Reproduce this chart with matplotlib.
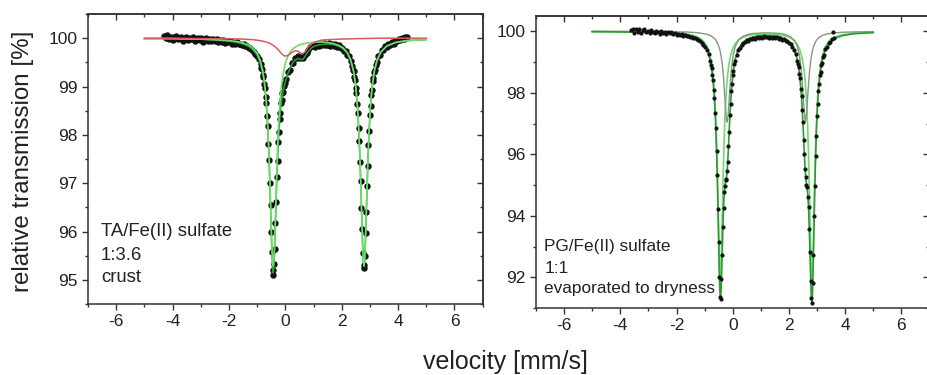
import numpy as np
import matplotlib.pyplot as plt
from matplotlib.ticker import MultipleLocator

plt.rcParams['font.family'] = ['Liberation Sans', 'DejaVu Sans']

# ---------------- left: TA/Fe(II) sulfate 1:3.6, crust ----------------
ta_vel = [
    -4.30, -4.24, -4.18, -4.12, -4.06, -4.00, -3.94, -3.88, -3.82, -3.76,
    -3.70, -3.64, -3.58, -3.52, -3.46, -3.40, -3.34, -3.28, -3.22, -3.16,
    -3.10, -3.04, -2.98, -2.92, -2.86, -2.80, -2.74, -2.68, -2.62, -2.56,
    -2.50, -2.44, -2.38, -2.32, -2.26, -2.20, -2.14, -2.08, -2.02, -1.96,
    -1.90, -1.84, -1.78, -1.72, -1.66, -1.60, -1.54, -1.48, -1.42, -1.36,
    -1.30, -1.24, -1.18, -1.12, -1.06, -1.00, -0.94, -0.88,
    -0.85, -0.825, -0.80, -0.775, -0.75, -0.725, -0.70, -0.675, -0.65, -0.625,
    -0.60, -0.575, -0.55, -0.525, -0.50, -0.475, -0.45, -0.425, -0.40, -0.375,
    -0.35, -0.325, -0.30, -0.275, -0.25, -0.225, -0.20, -0.175, -0.15, -0.125,
    -0.10, -0.075, -0.05,
    -0.02, 0.04, 0.10, 0.16, 0.22, 0.28, 0.34, 0.40, 0.46, 0.52,
    0.58, 0.64, 0.70, 0.76, 0.82, 0.88, 0.94, 1.00, 1.06, 1.12,
    1.18, 1.24, 1.30, 1.36, 1.42, 1.48, 1.54, 1.60, 1.66, 1.72,
    1.78, 1.84, 1.90, 1.96, 2.02, 2.08, 2.14, 2.20, 2.26, 2.32, 2.38,
    2.40, 2.425, 2.45, 2.475, 2.50, 2.525, 2.55, 2.575, 2.60, 2.625,
    2.65, 2.675, 2.70, 2.725, 2.75, 2.775, 2.80, 2.825, 2.85, 2.875,
    2.90, 2.925, 2.95, 2.975, 3.00, 3.025, 3.05, 3.075, 3.10, 3.125,
    3.15, 3.175, 3.20,
    3.24, 3.30, 3.36, 3.42, 3.48, 3.54, 3.60, 3.66, 3.72, 3.78,
    3.84, 3.90, 3.96, 4.02, 4.08, 4.14, 4.20, 4.26, 4.32,
]
ta_trans = [
    100.05, 100.01, 100.06, 99.99, 100.03, 99.97, 100.02, 100.04, 99.98, 100.00,
    100.02, 99.95, 99.99, 100.03, 99.96, 100.00, 99.98, 100.02, 99.95, 99.99,
    100.01, 99.96, 100.00, 99.93, 99.98, 100.00, 99.95, 99.98, 99.94, 99.98,
    99.95, 99.99, 99.93, 99.96, 99.93, 99.97, 99.91, 99.94, 99.92, 99.95,
    99.89, 99.92, 99.89, 99.92, 99.88, 99.89, 99.86, 99.87, 99.83, 99.84,
    99.80, 99.79, 99.75, 99.72, 99.67, 99.63, 99.56, 99.46,
    99.39, 99.36, 99.24, 99.20, 99.05, 98.97, 98.79, 98.66, 98.40, 98.18,
    97.81, 97.49, 97.00, 96.55, 95.98, 95.58, 95.20, 95.10, 95.33, 95.64,
    96.17, 96.62, 97.12, 97.46, 97.85, 98.06, 98.33, 98.46, 98.66, 98.72,
    98.87, 98.89, 99.01,
    99.07, 99.15, 99.31, 99.35, 99.48, 99.49, 99.58, 99.58, 99.63, 99.60,
    99.62, 99.60, 99.66, 99.70, 99.76, 99.81, 99.83, 99.86, 99.82, 99.88,
    99.84, 99.89, 99.85, 99.90, 99.86, 99.85, 99.90, 99.84, 99.89, 99.84,
    99.87, 99.81, 99.85, 99.79, 99.80, 99.73, 99.74, 99.66, 99.64, 99.52, 99.43,
    99.35, 99.32, 99.19, 99.13, 98.97, 98.86, 98.63, 98.46, 98.15, 97.88,
    97.44, 97.05, 96.49, 96.05, 95.56, 95.30, 95.25, 95.50, 95.96, 96.40,
    96.95, 97.35, 97.80, 98.09, 98.42, 98.60, 98.83, 98.93, 99.11, 99.18,
    99.30, 99.34, 99.45,
    99.50, 99.63, 99.66, 99.76, 99.75, 99.83, 99.81, 99.88, 99.86, 99.92,
    99.89, 99.95, 99.94, 99.98, 99.97, 100.01, 99.99, 100.03, 100.02,
]

ta_fit_vel = [
    -5.0, -4.0, -3.0, -2.5, -2.0, -1.7, -1.5, -1.3, -1.15, -1.0,
    -0.9, -0.8, -0.73, -0.67, -0.62, -0.58, -0.54, -0.51, -0.48, -0.455,
    -0.43, -0.405, -0.38, -0.35, -0.32, -0.28, -0.24, -0.19, -0.13, -0.06,
    0.0, 0.08, 0.16, 0.25, 0.35, 0.45, 0.55, 0.62, 0.7, 0.8,
    0.95, 1.1, 1.3, 1.5, 1.7, 1.9, 2.05, 2.2, 2.32, 2.42,
    2.5, 2.56, 2.61, 2.65, 2.69, 2.72, 2.75, 2.77, 2.79, 2.81,
    2.83, 2.86, 2.89, 2.93, 2.97, 3.02, 3.08, 3.16, 3.26, 3.4,
    3.6, 3.9, 4.3, 5.0,
]
ta_fit_total = [
    99.99, 99.99, 99.98, 99.96, 99.94, 99.91, 99.88, 99.83, 99.76, 99.65,
    99.51, 99.27, 98.98, 98.59, 98.10, 97.54, 96.82, 96.21, 95.63, 95.28,
    95.14, 95.26, 95.59, 96.15, 96.73, 97.42, 97.93, 98.38, 98.72, 98.96,
    99.10, 99.25, 99.37, 99.48, 99.55, 99.58, 99.56, 99.56, 99.62, 99.72,
    99.81, 99.85, 99.87, 99.88, 99.87, 99.83, 99.78, 99.69, 99.54, 99.31,
    98.99, 98.58, 98.05, 97.47, 96.73, 96.12, 95.59, 95.36, 95.28, 95.36,
    95.59, 96.12, 96.73, 97.47, 98.06, 98.58, 98.99, 99.32, 99.55, 99.72,
    99.83, 99.91, 99.95, 99.97,
]
ta_fit_main = [
    99.99, 99.99, 99.98, 99.97, 99.95, 99.93, 99.90, 99.86, 99.80, 99.69,
    99.56, 99.33, 99.05, 98.67, 98.19, 97.64, 96.94, 96.33, 95.76, 95.42,
    95.29, 95.42, 95.76, 96.33, 96.93, 97.64, 98.19, 98.67, 99.05, 99.32,
    99.48, 99.61, 99.70, 99.77, 99.81, 99.85, 99.87, 99.88, 99.89, 99.90,
    99.91, 99.92, 99.92, 99.91, 99.89, 99.85, 99.80, 99.70, 99.55, 99.32,
    99.00, 98.59, 98.06, 97.48, 96.73, 96.13, 95.60, 95.37, 95.29, 95.37,
    95.60, 96.13, 96.74, 97.48, 98.06, 98.59, 99.00, 99.33, 99.56, 99.72,
    99.84, 99.91, 99.95, 99.97,
]
ta_minor_vel = [
    -5.0, -4.0, -3.0, -2.0, -1.5, -1.15, -0.9, -0.73, -0.58, -0.48,
    -0.38, -0.28, -0.19, -0.13, -0.06, 0.0, 0.08, 0.16, 0.25, 0.35,
    0.45, 0.55, 0.62, 0.7, 0.8, 0.95, 1.1, 1.3, 1.5, 1.9,
    2.5, 3.4, 4.3, 5.0,
]
ta_minor = [
    100.00, 100.00, 99.99, 99.99, 99.98, 99.97, 99.95, 99.93, 99.90, 99.87,
    99.83, 99.78, 99.72, 99.68, 99.64, 99.63, 99.64, 99.67, 99.71, 99.74,
    99.73, 99.69, 99.68, 99.72, 99.81, 99.89, 99.93, 99.96, 99.97, 99.98,
    99.99, 100.00, 100.00, 100.00,
]

# ---------------- right: PG/Fe(II) sulfate 1:1, evaporated ----------------
pg_vel = [
    -3.62, -3.56, -3.50, -3.44, -3.38, -3.32, -3.26, -3.20, -3.14, -3.08,
    -3.02, -2.96, -2.90, -2.84, -2.78, -2.72, -2.66, -2.60, -2.54, -2.48,
    -2.42, -2.36, -2.30, -2.24, -2.18, -2.12, -2.06, -2.00, -1.94, -1.88,
    -1.82, -1.76, -1.70, -1.64, -1.58, -1.52, -1.46, -1.40, -1.34, -1.28,
    -1.22, -1.16, -1.10, -1.04, -0.98, -0.92, -0.86, -0.80,
    -0.775, -0.75, -0.725, -0.70, -0.675, -0.65, -0.625, -0.60, -0.575, -0.55,
    -0.525, -0.50, -0.475, -0.45, -0.425, -0.40, -0.375, -0.35, -0.325, -0.30,
    -0.275, -0.25, -0.225, -0.20, -0.175, -0.15, -0.125, -0.10, -0.075, -0.05,
    -0.025, 0.0, 0.025, 0.05,
    0.08, 0.14, 0.20, 0.26, 0.32, 0.38, 0.44, 0.50, 0.56, 0.62,
    0.68, 0.74, 0.80, 0.86, 0.92, 0.98, 1.04, 1.10, 1.16, 1.22,
    1.28, 1.34, 1.40, 1.46, 1.52, 1.58, 1.64, 1.70, 1.76, 1.82,
    1.88, 1.94, 2.00, 2.06, 2.12, 2.18, 2.24, 2.30,
    2.325, 2.35, 2.375, 2.40, 2.425, 2.45, 2.475, 2.50, 2.525, 2.55,
    2.575, 2.60, 2.625, 2.65, 2.675, 2.70, 2.725, 2.75, 2.775, 2.80,
    2.825, 2.85, 2.875, 2.90, 2.925, 2.95, 2.975, 3.00, 3.025, 3.05,
    3.075, 3.10, 3.125, 3.15, 3.175, 3.20,
    3.24, 3.30, 3.36, 3.42, 3.48, 3.54, 3.57, 3.60,
]
pg_trans = [
    100.05, 100.09, 99.93, 100.07, 99.99, 100.06, 99.95, 100.03, 100.08, 99.97,
    100.02, 99.93, 100.04, 99.99, 99.94, 100.02, 99.97, 99.92, 100.02, 99.95,
    99.99, 99.91, 99.97, 99.93, 99.98, 99.91, 99.93, 99.89, 99.91, 99.87,
    99.90, 99.86, 99.88, 99.84, 99.85, 99.81, 99.83, 99.79, 99.78, 99.75,
    99.72, 99.68, 99.63, 99.57, 99.50, 99.39, 99.25, 99.02,
    98.90, 98.81, 98.57, 98.42, 98.09, 97.82, 97.33, 96.85, 96.10, 95.32,
    94.21, 93.16, 92.02, 91.35, 91.30, 91.95, 92.71, 93.64, 94.24, 94.78,
    94.97, 95.17, 95.20, 95.47, 95.74, 96.28, 96.72, 97.29, 97.63, 98.07,
    98.28, 98.59, 98.70, 98.93,
    99.02, 99.22, 99.40, 99.47, 99.57, 99.63, 99.64, 99.71, 99.70, 99.75,
    99.74, 99.79, 99.76, 99.81, 99.78, 99.83, 99.79, 99.84, 99.80, 99.83,
    99.78, 99.82, 99.79, 99.83, 99.78, 99.80, 99.76, 99.78, 99.73, 99.74,
    99.68, 99.67, 99.61, 99.58, 99.49, 99.40, 99.25, 99.05,
    98.93, 98.85, 98.61, 98.47, 98.14, 97.89, 97.44, 97.05, 96.47, 96.02,
    95.51, 95.27, 95.01, 94.92, 94.61, 94.27, 93.56, 92.82, 91.87, 91.34,
    91.15, 91.82, 92.74, 93.98, 94.97, 95.95, 96.61, 97.25, 97.63, 98.06,
    98.28, 98.57, 98.69, 98.91, 98.97, 99.15,
    99.22, 99.44, 99.48, 99.63, 99.65, 99.75, 99.97, 99.78,
]

pg_fit_vel = [
    -5.0, -4.0, -3.0, -2.5, -2.0, -1.7, -1.5, -1.3, -1.15, -1.0,
    -0.9, -0.8, -0.72, -0.66, -0.61, -0.57, -0.54, -0.51, -0.48, -0.46,
    -0.44, -0.42, -0.40, -0.37, -0.34, -0.31, -0.28, -0.25, -0.22, -0.20,
    -0.18, -0.15, -0.12, -0.08, -0.03, 0.03, 0.1, 0.2, 0.35, 0.5,
    0.7, 0.9, 1.1, 1.3, 1.5, 1.7, 1.9, 2.05, 2.2, 2.3,
    2.38, 2.45, 2.5, 2.54, 2.57, 2.59, 2.61, 2.64, 2.67, 2.70,
    2.73, 2.76, 2.78, 2.80, 2.82, 2.84, 2.86, 2.89, 2.92, 2.96,
    3.0, 3.05, 3.12, 3.2, 3.3, 3.45, 3.65, 3.9, 4.3, 5.0,
]
pg_fit_total = [
    99.99, 99.98, 99.97, 99.96, 99.93, 99.90, 99.86, 99.80, 99.71, 99.56,
    99.38, 99.05, 98.57, 97.93, 97.06, 95.98, 94.89, 93.57, 92.26, 91.61,
    91.32, 91.44, 91.91, 92.93, 93.90, 94.58, 94.96, 95.13, 95.27, 95.43,
    95.70, 96.24, 96.86, 97.59, 98.26, 98.77, 99.13, 99.42, 99.63, 99.74,
    99.81, 99.85, 99.86, 99.86, 99.85, 99.81, 99.73, 99.62, 99.39, 99.08,
    98.61, 97.86, 97.02, 96.20, 95.63, 95.35, 95.15, 94.96, 94.72, 94.24,
    93.45, 92.43, 91.77, 91.30, 91.18, 91.48, 92.14, 93.48, 94.81, 96.23,
    97.23, 98.04, 98.70, 99.12, 99.41, 99.64, 99.78, 99.86, 99.92, 99.96,
]
pg_fit_main = [
    99.99, 99.99, 99.98, 99.97, 99.95, 99.92, 99.89, 99.84, 99.77, 99.64,
    99.48, 99.19, 98.75, 98.16, 97.33, 96.31, 95.27, 94.02, 92.79, 92.21,
    91.99, 92.21, 92.79, 94.02, 95.27, 96.31, 97.11, 97.71, 98.15, 98.39,
    98.58, 98.82, 99.00, 99.19, 99.36, 99.50, 99.61, 99.71, 99.80, 99.85,
    99.89, 99.90, 99.91, 99.91, 99.90, 99.88, 99.84, 99.79, 99.69, 99.58,
    99.42, 99.21, 98.99, 98.73, 98.47, 98.25, 97.99, 97.49, 96.83, 95.94,
    94.80, 93.51, 92.70, 92.11, 91.89, 92.11, 92.70, 93.94, 95.21, 96.56,
    97.50, 98.26, 98.87, 99.25, 99.51, 99.71, 99.82, 99.89, 99.94, 99.97,
]
pg_fit_minor = [
    100.00, 100.00, 99.99, 99.99, 99.98, 99.98, 99.97, 99.96, 99.94, 99.92,
    99.90, 99.86, 99.82, 99.78, 99.73, 99.67, 99.62, 99.55, 99.47, 99.41,
    99.33, 99.23, 99.12, 98.91, 98.63, 98.28, 97.86, 97.43, 97.11, 97.05,
    97.11, 97.43, 97.86, 98.40, 98.91, 99.28, 99.53, 99.71, 99.83, 99.89,
    99.93, 99.94, 99.95, 99.95, 99.94, 99.93, 99.89, 99.83, 99.70, 99.51,
    99.19, 98.65, 98.03, 97.47, 97.16, 97.09, 97.16, 97.47, 97.89, 98.30,
    98.65, 98.92, 99.07, 99.19, 99.29, 99.38, 99.45, 99.53, 99.60, 99.68,
    99.73, 99.78, 99.83, 99.87, 99.90, 99.93, 99.95, 99.97, 99.98, 99.99,
]

DARK_GREEN = '#2f9a35'
LIGHT_GREEN = '#6ade66'
RED = '#d95a60'
GRAY = '#859585'
AXIS = '#333333'


def style_axes(ax, ymajor, yminor):
    ax.set_xlim(-7, 7)
    ax.xaxis.set_major_locator(MultipleLocator(2))
    ax.xaxis.set_minor_locator(MultipleLocator(1))
    ax.yaxis.set_major_locator(MultipleLocator(ymajor))
    ax.yaxis.set_minor_locator(MultipleLocator(yminor))
    ax.tick_params(which='both', direction='out', width=1.0, color=AXIS,
                   labelsize=12.5, labelcolor='#222222', pad=3)
    ax.tick_params(which='major', length=4.5)
    ax.tick_params(which='minor', length=2.5)
    for sp in ax.spines.values():
        sp.set_color(AXIS)
        sp.set_linewidth(1.1)
    # ticks on top and right point inward
    top = ax.secondary_xaxis('top')
    top.xaxis.set_major_locator(MultipleLocator(2))
    top.xaxis.set_minor_locator(MultipleLocator(1))
    top.tick_params(which='both', direction='in', labeltop=False, color=AXIS, width=1.0)
    top.tick_params(which='major', length=4.5)
    top.tick_params(which='minor', length=2.5)
    top.spines['top'].set_color(AXIS)
    top.spines['top'].set_linewidth(1.1)
    right = ax.secondary_yaxis('right')
    right.yaxis.set_major_locator(MultipleLocator(ymajor))
    right.yaxis.set_minor_locator(MultipleLocator(yminor))
    right.tick_params(which='both', direction='in', labelright=False, color=AXIS, width=1.0)
    right.tick_params(which='major', length=4.5)
    right.tick_params(which='minor', length=2.5)
    right.spines['right'].set_color(AXIS)
    right.spines['right'].set_linewidth(1.1)
    ax.yaxis.set_major_formatter(plt.FuncFormatter(lambda v, p: f"{v:.0f}"))
    ax.xaxis.set_major_formatter(plt.FuncFormatter(lambda v, p: f"{v:.0f}"))


fig = plt.figure(figsize=(9.28, 3.75), dpi=100)
ax1 = fig.add_axes([0.0948, 0.1893, 0.4253, 0.7733])
ax2 = fig.add_axes([0.5776, 0.1787, 0.4239, 0.7787])

# left panel
ax1.plot(ta_vel, ta_trans, 'o', ms=3.6, color='#111111', mec='#111111', zorder=2)
ax1.plot(ta_fit_vel, ta_fit_total, color=DARK_GREEN, lw=1.1, zorder=3)
ax1.plot(ta_fit_vel, ta_fit_main, color=LIGHT_GREEN, lw=1.2, zorder=4)
ax1.plot(ta_minor_vel, ta_minor, color=RED, lw=1.1, zorder=5)
ax1.set_ylim(94.5, 100.5)
style_axes(ax1, 1, 0.5)
for txt, yy in [("TA/Fe(II) sulfate", 0.249), ("1:3.6", 0.169), ("crust", 0.091)]:
    ax1.text(0.033, yy, txt, transform=ax1.transAxes, fontsize=13.3, va='center', ha='left', color='#222222')

# right panel
ax2.plot(pg_fit_vel, pg_fit_main, color=LIGHT_GREEN, lw=1.2, zorder=2)
ax2.plot(pg_fit_vel, pg_fit_minor, color=GRAY, lw=1.0, zorder=2)
ax2.plot(pg_fit_vel, pg_fit_total, color=DARK_GREEN, lw=1.2, zorder=3)
ax2.plot(pg_vel, pg_trans, 'o', ms=2.0, color='#111111', zorder=4)
ax2.set_ylim(91.0, 100.5)
style_axes(ax2, 2, 1)
for txt, yy in [("PG/Fe(II) sulfate", 0.21), ("1:1", 0.136), ("evaporated to dryness", 0.066)]:
    ax2.text(0.021, yy, txt, transform=ax2.transAxes, fontsize=12.4, va='center', ha='left', color='#222222')

fig.text(23 / 928, 1 - 161 / 375, "relative transmission [%]", rotation=90,
         ha='center', va='center', fontsize=17.4, color='#222222')
fig.text(505 / 928, 1 - 362 / 375, "velocity [mm/s]", ha='center', va='center',
         fontsize=18, color='#222222')

fig.savefig('out.png', dpi=100)
